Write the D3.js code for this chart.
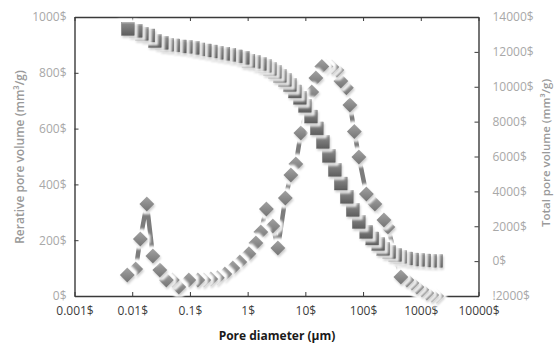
<!DOCTYPE html>
<html>
<head>
<meta charset="utf-8">
<script src="https://cdn.jsdelivr.net/npm/d3@7"></script>
<style>
  body { margin: 0; background: #fff; }
  text { font-family: "Open Sans", sans-serif; }
</style>
</head>
<body>
<div id="chart"></div>
<script>
"use strict";
// cumulative (total) pore volume, squares, right axis
const sqDiameter = [0.0084, 0.0115, 0.0147, 0.019, 0.0247, 0.0326, 0.0405, 0.0515, 0.0668, 0.085,
  0.112, 0.14, 0.181, 0.23, 0.292, 0.379, 0.482, 0.624, 0.826, 1.03,
  1.28, 1.63, 1.99, 2.43, 2.96, 3.61, 4.42, 5.39, 6.58, 8.03,
  9.82, 12.5, 15.8, 20.1, 25.5, 32.4, 41.1, 52.2, 66.3, 84.2,
  113, 144, 183, 223, 283, 360, 440, 558, 709, 901, 1146, 1455, 1849];
const sqTotal = [13310, 13200, 13030, 12940, 12620, 12510, 12400, 12370, 12310, 12280,
  12220, 12140, 12080, 12020, 11940, 11880, 11820, 11740, 11650, 11480,
  11420, 11300, 11190, 11020, 10850, 10620, 10390, 10100, 9730, 9360,
  8900, 8290, 7610, 6830, 6030, 5230, 4450, 3680, 2930, 2240,
  1670, 1300, 980, 700, 520, 350, 240, 150, 90, 65, 36, 10, 5];

// relative pore volume, diamonds, left axis
const dmDiameter = [0.0082, 0.0115, 0.0138, 0.0179, 0.0228, 0.0301, 0.039, 0.0495, 0.0642, 0.0957,
  0.137, 0.174, 0.23, 0.298, 0.403, 0.554, 0.732, 1.05, 1.39, 1.69,
  2.11, 2.73, 3.34, 4.5, 5.61, 6.84, 8.36, 10.6, 12.9, 15.2,
  19.3, 22.7, 28.8, 35.1, 41.2, 51.4, 59.1, 70.6, 84.5, 114,
  160, 230, 269, 356, 452, 574, 701, 855, 1041, 1268, 1545, 1879];
const dmRelative = [75, 97, 204, 330, 143, 93, 57, 57, 32, 57,
  57, 57, 61, 65, 79, 100, 122, 151, 190, 229,
  312, 251, 172, 351, 434, 473, 584, 667, 731, 781,
  823, 823, 821, 810, 771, 746, 685, 590, 498, 366,
  330, 272, 247, 147, 68, 57, 47, 32, 22, 11, 4, 0];

const xTicks = [0.001, 0.01, 0.1, 1, 10, 100, 1000, 10000];
const xTickLabels = ["0.001$", "0.01$", "0.1$", "1$", "10$", "100$", "1000$", "10000$"];
const leftTicks = [0, 200, 400, 600, 800, 1000];
const leftTickLabels = ["0$", "200$", "400$", "600$", "800$", "1000$"];
const rightTicks = [-2000, 0, 2000, 4000, 6000, 8000, 10000, 12000, 14000];
const rightTickLabels = ["!2000$", "0$", "2000$", "4000$", "6000$", "8000$", "10000$", "12000$", "14000$"];

const width = 554, height = 344;
const x = d3.scaleLog().domain([0.001, 10000]).range([74.5, 478.5]);
const yL = d3.scaleLinear().domain([0, 1000]).range([296, 17]);
const yR = d3.scaleLinear().domain([-2000, 14000]).range([296, 17]);

const svg = d3.select('#chart').append('svg')
  .attr('width', width)
  .attr('height', height);

const defs = svg.append('defs');
// white halo + soft shadow around each marker
const f = defs.append('filter').attr('id', 'halo')
  .attr('x', '-80%').attr('y', '-80%').attr('width', '260%').attr('height', '260%');
f.append('feMorphology').attr('in', 'SourceAlpha').attr('operator', 'dilate').attr('radius', 2.5).attr('result', 'dil');
f.append('feGaussianBlur').attr('in', 'dil').attr('stdDeviation', 1.2).attr('result', 'dilb');
f.append('feFlood').attr('flood-color', '#fff').attr('result', 'white');
f.append('feComposite').attr('in', 'white').attr('in2', 'dilb').attr('operator', 'in').attr('result', 'glow');
f.append('feGaussianBlur').attr('in', 'SourceAlpha').attr('stdDeviation', 1.2).attr('result', 'sb');
f.append('feOffset').attr('in', 'sb').attr('dx', 1).attr('dy', 1.5).attr('result', 'so');
f.append('feComponentTransfer').attr('in', 'so').attr('result', 'shadow')
  .append('feFuncA').attr('type', 'linear').attr('slope', 0.4);
const fm = f.append('feMerge');
fm.append('feMergeNode').attr('in', 'glow');
fm.append('feMergeNode').attr('in', 'shadow');
fm.append('feMergeNode').attr('in', 'SourceGraphic');

const gradSq = defs.append('linearGradient').attr('id', 'gsq')
  .attr('x1', 0).attr('y1', 0).attr('x2', 0).attr('y2', 1);
gradSq.append('stop').attr('offset', '0%').attr('stop-color', '#a8a8a8');
gradSq.append('stop').attr('offset', '15%').attr('stop-color', '#858585');
gradSq.append('stop').attr('offset', '100%').attr('stop-color', '#5e5e5e');

const gradDm = defs.append('linearGradient').attr('id', 'gdm')
  .attr('x1', 0).attr('y1', 0).attr('x2', 0).attr('y2', 1);
gradDm.append('stop').attr('offset', '0%').attr('stop-color', '#a2a2a2');
gradDm.append('stop').attr('offset', '100%').attr('stop-color', '#747474');

// axes (frame with inward ticks)
const frame = '#3a3a3a';
const styleAxis = (g, color) => {
  g.select('.domain').attr('stroke', frame).attr('stroke-width', 1.4);
  g.selectAll('.tick line').attr('stroke', frame).attr('stroke-width', 1);
  g.selectAll('.tick text').attr('fill', color).style('font-size', '12px')
    .style('font-family', '"Open Sans", sans-serif');
};

svg.append('g').attr('transform', 'translate(0,296)')
  .call(d3.axisBottom(x).tickValues(xTicks).tickSize(-4).tickSizeOuter(0).tickPadding(10)
    .tickFormat((d, i) => xTickLabels[i]))
  .call(g => styleAxis(g, '#3c3c3c'));

svg.append('g').attr('transform', 'translate(0,17)')
  .call(d3.axisTop(x).tickValues(xTicks).tickSize(-4).tickSizeOuter(0).tickFormat(''))
  .call(g => styleAxis(g, '#3c3c3c'));

svg.append('g').attr('transform', 'translate(74.5,0)')
  .call(d3.axisLeft(yL).tickValues(leftTicks).tickSize(-4).tickSizeOuter(0).tickPadding(8)
    .tickFormat((d, i) => leftTickLabels[i]))
  .call(g => styleAxis(g, '#a8a8a8'));

svg.append('g').attr('transform', 'translate(478.5,0)')
  .call(d3.axisRight(yR).tickValues(rightTicks).tickSize(-4).tickSizeOuter(0).tickPadding(14)
    .tickFormat((d, i) => rightTickLabels[i]))
  .call(g => styleAxis(g, '#a8a8a8'));

// titles
svg.append('text')
  .attr('transform', 'translate(24,157) rotate(-90)')
  .attr('text-anchor', 'middle')
  .attr('fill', '#9a9a9a')
  .style('font-size', '12px').style('font-weight', 600)
  .text('Rerative pore volume (mm³/g)');

svg.append('text')
  .attr('transform', 'translate(550,153) rotate(-90)')
  .attr('text-anchor', 'middle')
  .attr('fill', '#9a9a9a')
  .style('font-size', '11.5px').style('font-weight', 600)
  .text('Total pore volume (mm³/g)');

svg.append('text')
  .attr('x', 277).attr('y', 340)
  .attr('text-anchor', 'middle')
  .attr('fill', '#1a1a1a')
  .style('font-size', '12px').style('font-weight', 700)
  .text('Pore diameter (μm)');

// relative pore volume: thick line + diamonds (drawn from large pores to small)
const dmData = dmDiameter.map((d, i) => ({ d: d, v: dmRelative[i] })).reverse();
svg.append('path')
  .datum(dmData)
  .attr('fill', 'none')
  .attr('stroke', '#7c7c7c')
  .attr('stroke-width', 4.5)
  .attr('d', d3.line().x(p => x(p.d)).y(p => yL(p.v)));

svg.selectAll('.dm').data(dmData).enter().append('path')
  .attr('class', 'dm')
  .attr('transform', p => `translate(${x(p.d)},${yL(p.v)})`)
  .attr('d', 'M0,-7.5L7.5,0L0,7.5L-7.5,0Z')
  .attr('fill', 'url(#gdm)')
  .attr('filter', 'url(#halo)');

// total pore volume: squares
const sqData = sqDiameter.map((d, i) => ({ d: d, v: sqTotal[i] })).reverse();
svg.selectAll('.sq').data(sqData).enter().append('rect')
  .attr('class', 'sq')
  .attr('x', p => x(p.d) - 6.5)
  .attr('y', p => yR(p.v) - 6.5)
  .attr('width', 13)
  .attr('height', 13)
  .attr('fill', 'url(#gsq)')
  .attr('stroke', '#555')
  .attr('stroke-width', 0.4)
  .attr('filter', 'url(#halo)');
</script>
</body>
</html>
